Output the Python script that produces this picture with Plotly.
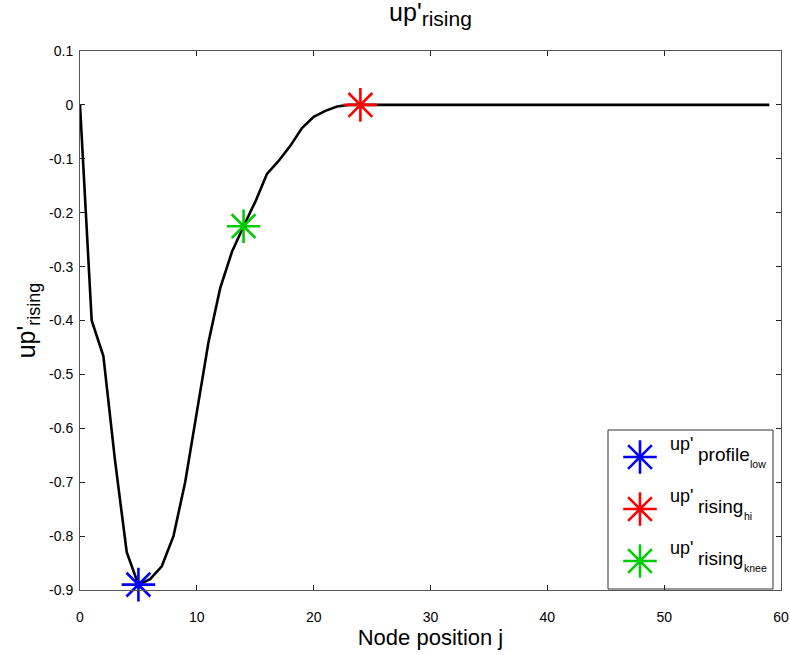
import plotly.graph_objects as go

# Node positions and the rising-edge profile values
node_j = list(range(60))
up_rising = [0.0, -0.40, -0.466, -0.66, -0.83, -0.89, -0.88, -0.856, -0.80, -0.70,
             -0.57, -0.44, -0.34, -0.273, -0.225, -0.18, -0.128, -0.104, -0.076, -0.043,
             -0.022, -0.011, -0.003, 0.0, 0.0] + [0.0] * 35

# Key points on the profile
low_j, low_val = [5], [-0.89]
hi_j, hi_val = [24], [0.0]
knee_j, knee_val = [14], [-0.225]

y_ticks = [0.1, 0, -0.1, -0.2, -0.3, -0.4, -0.5, -0.6, -0.7, -0.8, -0.9]
y_ticktext = ["0.1", "0", "-0.1", "-0.2", "-0.3", "-0.4", "-0.5", "-0.6", "-0.7", "-0.8", "-0.9"]
x_ticks = [0, 10, 20, 30, 40, 50, 60]

# Legend entries: base symbol, subscript, second-level subscript
legend_base = ["up'", "up'", "up'"]
legend_sub = ["profile", "rising", "rising"]
legend_subsub = ["low", "hi", "knee"]
colors = ["#0000ff", "#ff0000", "#00cc00"]

FONT = "Liberation Sans, Arial, sans-serif"
W, H = 790, 655
L, R, T, B = 80, 9, 51, 65

fig = go.Figure()

fig.add_trace(go.Scatter(x=node_j, y=up_rising, mode="lines",
                         line=dict(color="black", width=2.6), showlegend=False))

for xs, ys, c in [(low_j, low_val, colors[0]), (hi_j, hi_val, colors[1]), (knee_j, knee_val, colors[2])]:
    fig.add_trace(go.Scatter(x=xs, y=ys, mode="markers", cliponaxis=False,
                             marker=dict(symbol="asterisk-open", size=28, color=c,
                                         line=dict(color=c, width=2.6)),
                             showlegend=False))

# Legend box drawn on a pixel-scaled overlay axis
leg_x0, leg_x1, leg_y0, leg_y1 = 608, 773, 430, 589
row_y = [457, 509, 561]
fig.add_trace(go.Scatter(x=[640] * 3, y=row_y, mode="markers", xaxis="x2", yaxis="y2",
                         cliponaxis=False,
                         marker=dict(symbol="asterisk-open", size=28, color=colors,
                                     line=dict(color=colors, width=2.6)),
                         showlegend=False))
fig.add_shape(type="rect", xref="x2", yref="y2", x0=leg_x0, x1=leg_x1, y0=leg_y0, y1=leg_y1,
              line=dict(color="#333333", width=1), fillcolor="white", layer="below")


def put_text(txt, x_left, baseline, size):
    # place text by its left edge and baseline (pixel space of the overlay axis)
    fig.add_annotation(x=x_left, y=baseline - 0.35 * size, xref="x2", yref="y2", text=txt,
                       showarrow=False, xanchor="left", yanchor="middle", borderpad=0,
                       font=dict(family=FONT, size=size, color="black"))


for i, yy in enumerate(row_y):
    put_text(legend_base[i], 669, yy - 7, 18)
    put_text(legend_sub[i], 697, yy + 4, 19)
    sub_w = {"profile": 51, "rising": 45}[legend_sub[i]]
    put_text(legend_subsub[i], 697 + sub_w + 1, yy + 11, 10.5)

axis_common = dict(showgrid=False, zeroline=False, ticks="inside", ticklen=5,
                   tickcolor="#222222", showline=True, linecolor="#555555", linewidth=1,
                   mirror="ticks", automargin=False,
                   tickfont=dict(family=FONT, size=14, color="black"))

fig.update_layout(
    width=W, height=H,
    margin=dict(l=L, r=R, t=T, b=B),
    paper_bgcolor="white", plot_bgcolor="white",
    title=dict(text="up'<sub><span style='font-size:21px'>rising</span></sub>",
               x=(L + (W - R)) / 2 / W, xanchor="center",
               y=1 - 3 / H, yanchor="top", yref="container",
               font=dict(family=FONT, size=25, color="black")),
    xaxis=dict(range=[0, 60], tickvals=x_ticks, ticklabelstandoff=14,
               title=dict(text="Node position j", font=dict(family=FONT, size=22, color="black"),
                          standoff=4),
               **axis_common),
    yaxis=dict(range=[-0.9, 0.1], tickvals=y_ticks, ticktext=y_ticktext, ticklabelstandoff=3,
               title=dict(text="up'<sub><span style='font-size:18px'>rising</span></sub>",
                          font=dict(family=FONT, size=25, color="black"), standoff=6),
               **axis_common),
    xaxis2=dict(overlaying="x", range=[L, W - R], visible=False, anchor="y2", fixedrange=True),
    yaxis2=dict(overlaying="y", range=[H - B, T], visible=False, anchor="x2", fixedrange=True),
)

fig.write_html("out.html")
